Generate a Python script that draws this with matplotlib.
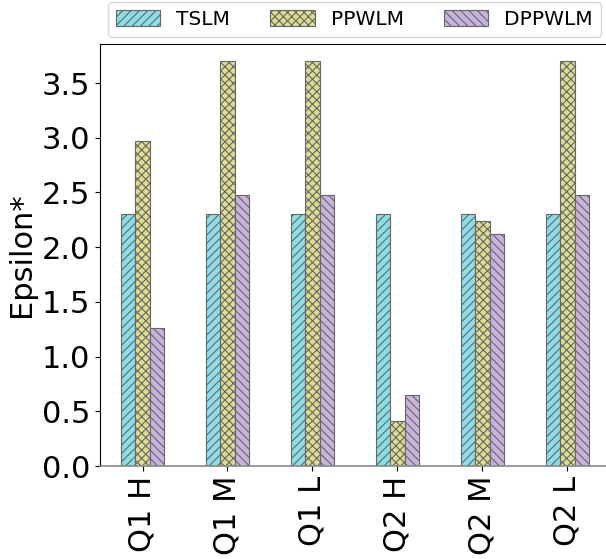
import matplotlib
matplotlib.use("Agg")
import matplotlib.pyplot as plt
import numpy as np

categories = ["Q1 H", "Q1 M", "Q1 L", "Q2 H", "Q2 M", "Q2 L"]
series_names = ["TSLM", "PPWLM", "DPPWLM"]
tslm = [2.30, 2.30, 2.30, 2.30, 2.30, 2.30]
ppwlm = [2.97, 3.70, 3.70, 0.41, 2.24, 3.70]
dppwlm = [1.26, 2.48, 2.48, 0.65, 2.12, 2.48]
y_ticks = [0.0, 0.5, 1.0, 1.5, 2.0, 2.5, 3.0, 3.5]

colors = ["#8bdee7", "#dddd90", "#c9b3de"]
hatches = ["////", "xxxx", "\\\\\\\\"]

fig = plt.figure(figsize=(6.06, 5.59), dpi=100)
ax = fig.add_axes([100/606, 1-466/559, 510/606, (466-44)/559])

x = np.arange(len(categories))
width = 0.5 / 3
plt.rcParams['hatch.linewidth'] = 0.8
plt.rcParams['hatch.color'] = '#555555'
for i, (vals, name) in enumerate(zip([tslm, ppwlm, dppwlm], series_names)):
    ax.bar(x + (i - 1) * width, vals, width, label=name, color=colors[i],
           edgecolor='#666666', linewidth=0.8, hatch=hatches[i])

ax.set_xlim(-0.5, 5.5)
ax.set_ylim(0, 3.857)
ax.set_xticks(x)
ax.set_xticklabels(categories, rotation=90, fontsize=22)
ax.set_yticks(y_ticks)
ax.set_yticklabels([f"{v:.1f}" for v in y_ticks], fontsize=22)
ax.set_ylabel("Epsilon*", fontsize=22)
ax.spines['right'].set_visible(False)
ax.spines['bottom'].set_color('#888888')
ax.spines['bottom'].set_linewidth(1.2)

fig.legend(loc='upper right', bbox_to_anchor=(601/606, 1-2/559), ncol=3,
           fontsize=14.5, frameon=True, borderaxespad=0,
           handlelength=2.2, handleheight=0.8)

fig.savefig("out.png", dpi=100)
